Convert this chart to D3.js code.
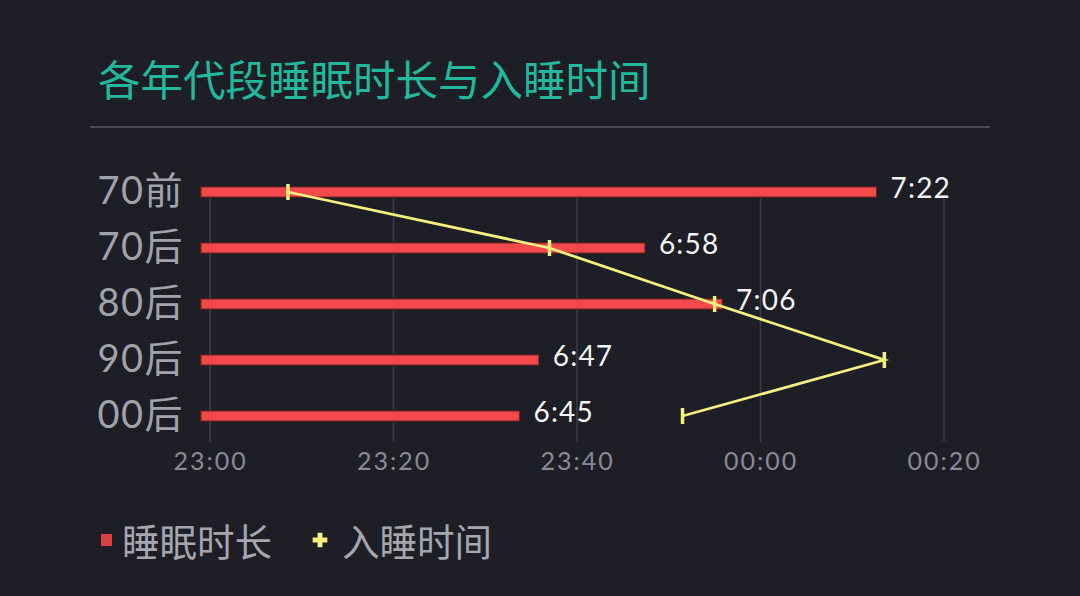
<!DOCTYPE html>
<html>
<head>
<meta charset="utf-8">
<script src="https://cdn.jsdelivr.net/npm/d3@7"></script>
<style>
  body { margin: 0; background: #1e1e26; }
  svg { display: block; }
</style>
</head>
<body>
<div class="chart"></div>
<script>
var wi = 1080;
var he = 596;

// data
var groups = ["70前", "70后", "80后", "90后", "00后"];
// sleep length, minutes
var sleepLength = [442, 418, 426, 407, 405];
// time of falling asleep, minutes after 23:00
var sleepStart = [8.5, 37, 55, 73.5, 51.5];
var timeTicks = [0, 20, 40, 60, 80];
var tickLabels = ["23:00", "23:20", "23:40", "00:00", "00:20"];

var title = "各年代段睡眠时长与入睡时间";
var legendNames = ["睡眠时长", "入睡时间"];

var red = "#f04b4a";
var yellow = "#f4ef80";
var numFont = "Lato, 'Noto Sans CJK SC', sans-serif";
var cjkFont = "'Noto Sans CJK SC', sans-serif";

function fmt(m) {
  return Math.floor(m / 60) + ":" + d3.format("02d")(m % 60);
}

var svg = d3.select(".chart")
  .append("svg")
  .attr("width", wi)
  .attr("height", he);

svg.append("rect")
  .attr("width", wi)
  .attr("height", he)
  .attr("fill", "#1e1e26");

// title + rule
svg.append("text")
  .attr("x", 98)
  .attr("y", 77)
  .attr("dominant-baseline", "central")
  .attr("font-family", cjkFont)
  .attr("font-size", 42.5)
  .attr("fill", "#22b89b")
  .text(title);

svg.append("line")
  .attr("x1", 90).attr("x2", 990)
  .attr("y1", 127).attr("y2", 127)
  .attr("stroke", "#4a4a53")
  .attr("stroke-width", 2);

// scales
var xTime = d3.scaleLinear()
  .domain([0, 80])
  .range([210, 944]);

var xLen = d3.scaleLinear()
  .domain([372, 450])
  .range([201, 201 + 78 * 9.65]);

var yScale = d3.scalePoint()
  .domain(groups)
  .range([192, 416]);

// grid
svg.append("g")
  .selectAll("line")
  .data(timeTicks)
  .enter()
  .append("line")
  .attr("x1", function(d) { return xTime(d); })
  .attr("x2", function(d) { return xTime(d); })
  .attr("y1", 198)
  .attr("y2", 442)
  .attr("stroke", "#3d3d49")
  .attr("stroke-width", 1.5);

// x axis labels
var xAxis = d3.axisBottom(xTime)
  .tickValues(timeTicks)
  .tickFormat(function(d, i) { return tickLabels[i]; })
  .tickSize(0)
  .tickPadding(0);

var xg = svg.append("g")
  .attr("transform", "translate(0,452)")
  .call(xAxis);
xg.select(".domain").remove();
xg.selectAll("text")
  .attr("dy", "0.71em")
  .attr("font-family", numFont)
  .attr("font-size", 25)
  .attr("letter-spacing", 2)
  .attr("fill", "#8a8a94");

// y axis labels
var yAxis = d3.axisLeft(yScale)
  .tickSize(0)
  .tickPadding(0);

var yg = svg.append("g")
  .attr("transform", "translate(184,0)")
  .call(yAxis);
yg.select(".domain").remove();
yg.selectAll("text")
  .attr("dy", "0.3em")
  .attr("font-family", numFont)
  .attr("font-size", 38)
  .attr("letter-spacing", 1.5)
  .attr("fill", "#a2a2ab");

// bars
svg.append("g")
  .selectAll("rect")
  .data(groups)
  .enter()
  .append("rect")
  .attr("x", xLen(372))
  .attr("y", function(d) { return yScale(d) - 5; })
  .attr("width", function(d, i) { return xLen(sleepLength[i]) - xLen(372); })
  .attr("height", 10)
  .attr("fill", red)
  .attr("stroke", "#7a2024")
  .attr("stroke-width", 1);

svg.append("g")
  .selectAll("text")
  .data(groups)
  .enter()
  .append("text")
  .attr("x", function(d, i) { return xLen(sleepLength[i]) + 14; })
  .attr("y", function(d) { return yScale(d); })
  .attr("dy", "0.22em")
  .attr("font-family", numFont)
  .attr("font-size", 28)
  .attr("letter-spacing", 1.2)
  .attr("fill", "#f4f4f4")
  .text(function(d, i) { return fmt(sleepLength[i]); });

// sleep start line
var line = d3.line()
  .x(function(d, i) { return xTime(sleepStart[i]); })
  .y(function(d) { return yScale(d); });

svg.append("path")
  .datum(groups)
  .attr("d", line)
  .attr("fill", "none")
  .attr("stroke", yellow)
  .attr("stroke-width", 2.8);

svg.append("g")
  .selectAll("line")
  .data(groups)
  .enter()
  .append("line")
  .attr("x1", function(d, i) { return xTime(sleepStart[i]); })
  .attr("x2", function(d, i) { return xTime(sleepStart[i]); })
  .attr("y1", function(d) { return yScale(d) - 8; })
  .attr("y2", function(d) { return yScale(d) + 8; })
  .attr("stroke", yellow)
  .attr("stroke-width", 3.5);

// legend
var legend = svg.append("g");

legend.append("rect")
  .attr("x", 101).attr("y", 534)
  .attr("width", 11).attr("height", 12)
  .attr("fill", "#d9403f");

legend.append("text")
  .attr("x", 122).attr("y", 539)
  .attr("dominant-baseline", "central")
  .attr("font-family", cjkFont)
  .attr("font-size", 37.5)
  .attr("fill", "#a6a6ae")
  .text(legendNames[0]);

legend.append("path")
  .attr("d", d3.symbol(d3.symbolCross, 120)())
  .attr("transform", "translate(320,540)")
  .attr("fill", yellow);

legend.append("text")
  .attr("x", 342).attr("y", 539)
  .attr("dominant-baseline", "central")
  .attr("font-family", cjkFont)
  .attr("font-size", 37.5)
  .attr("fill", "#a6a6ae")
  .text(legendNames[1]);
</script>
</body>
</html>
